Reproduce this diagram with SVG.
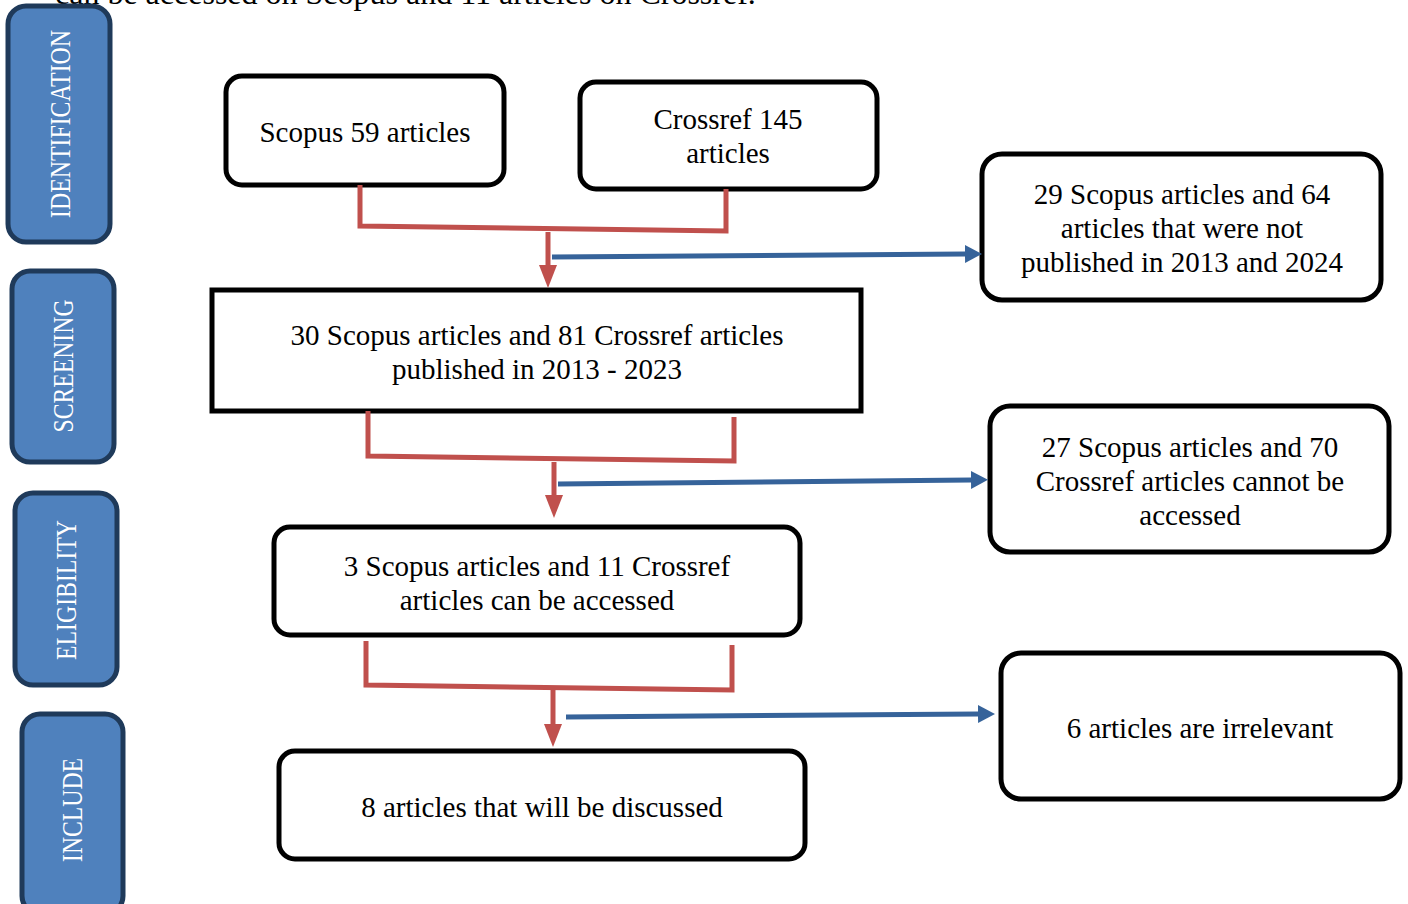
<svg xmlns="http://www.w3.org/2000/svg" width="1408" height="904" viewBox="0 0 1408 904">
<style>
.stage rect{fill:#4f81bd;stroke:#1f3a5a;stroke-width:5}
.stage text{fill:#ffffff;font-family:"Liberation Serif","Times New Roman",serif;font-size:29px;text-anchor:middle}
.box rect{fill:#ffffff;stroke:#000000;stroke-width:5}
.box text{fill:#000000;font-family:"Liberation Serif","Times New Roman",serif;font-size:29px;text-anchor:middle}
.red{fill:none;stroke:#c0504d;stroke-width:5}
.blue{fill:none;stroke:#36639a;stroke-width:5}
.top{fill:#000000;font-family:"Liberation Serif","Times New Roman",serif;font-size:32px}
</style>
<defs>
<marker id="ar" markerUnits="userSpaceOnUse" markerWidth="24" markerHeight="18" refX="0" refY="9" orient="auto"><path d="M0,0 L23,9 L0,18 z" fill="#c0504d"/></marker>
<marker id="ab" markerUnits="userSpaceOnUse" markerWidth="18" markerHeight="18" refX="0" refY="9" orient="auto"><path d="M0,0 L17,9 L0,18 z" fill="#36639a"/></marker>
</defs>
<rect width="1408" height="904" fill="#ffffff"/>
<text class="top" x="55" y="4">can be accessed on Scopus and 11 articles on Crossref.</text>

<g id="stage-identification" class="stage"><rect x="8" y="6" width="102" height="236" rx="18"/><text transform="translate(70,124) rotate(-90)" textLength="188" lengthAdjust="spacingAndGlyphs">IDENTIFICATION</text></g>
<g id="stage-screening" class="stage"><rect x="12" y="271" width="102" height="191" rx="18"/><text transform="translate(73,366) rotate(-90)" textLength="133" lengthAdjust="spacingAndGlyphs">SCREENING</text></g>
<g id="stage-eligibility" class="stage"><rect x="15" y="493" width="102" height="192" rx="18"/><text transform="translate(76,590) rotate(-90)" textLength="140" lengthAdjust="spacingAndGlyphs">ELIGIBILITY</text></g>
<g id="stage-include" class="stage"><rect x="22" y="714" width="101" height="200" rx="18"/><text transform="translate(82,810) rotate(-90)" textLength="104" lengthAdjust="spacingAndGlyphs">INCLUDE</text></g>

<g id="scopus" class="box"><rect x="226" y="76" width="278" height="109" rx="16"/><text x="365" y="142">Scopus 59 articles</text></g>
<g id="crossref" class="box"><rect x="580" y="82" width="297" height="107" rx="16"/><text x="728" y="129">Crossref 145</text><text x="728" y="163">articles</text></g>
<g id="excluded-years" class="box"><rect x="982" y="154" width="399" height="146" rx="20"/><text x="1182" y="204">29 Scopus articles and 64</text><text x="1182" y="238">articles that were not</text><text x="1182" y="272">published in 2013 and 2024</text></g>
<g id="screened" class="box"><rect x="212" y="290" width="649" height="121"/><text x="537" y="345">30 Scopus articles and 81 Crossref articles</text><text x="537" y="379">published in 2013 - 2023</text></g>
<g id="excluded-access" class="box"><rect x="990" y="406" width="399" height="146" rx="20"/><text x="1190" y="457">27 Scopus articles and 70</text><text x="1190" y="491">Crossref articles cannot be</text><text x="1190" y="525">accessed</text></g>
<g id="eligible" class="box"><rect x="274" y="527" width="526" height="108" rx="16"/><text x="537" y="576">3 Scopus articles and 11 Crossref</text><text x="537" y="610">articles can be accessed</text></g>
<g id="excluded-irrelevant" class="box"><rect x="1001" y="653" width="399" height="146" rx="20"/><text x="1200" y="738">6 articles are irrelevant</text></g>
<g id="included" class="box"><rect x="279" y="751" width="526" height="108" rx="16"/><text x="542" y="817">8 articles that will be discussed</text></g>

<g id="connectors">
<path class="red" d="M360,185 V226 L726,231 V189"/>
<path class="red" d="M548,232 V265" marker-end="url(#ar)"/>
<path class="blue" d="M552,257 L965,254" marker-end="url(#ab)"/>
<path class="red" d="M368,411 V456 L734,461 V417"/>
<path class="red" d="M554,462 V495" marker-end="url(#ar)"/>
<path class="blue" d="M558,484 L971,480" marker-end="url(#ab)"/>
<path class="red" d="M366,641 V685 L732,690 V645"/>
<path class="red" d="M553,689 V724" marker-end="url(#ar)"/>
<path class="blue" d="M566,717 L978,714" marker-end="url(#ab)"/>
</g>
</svg>
